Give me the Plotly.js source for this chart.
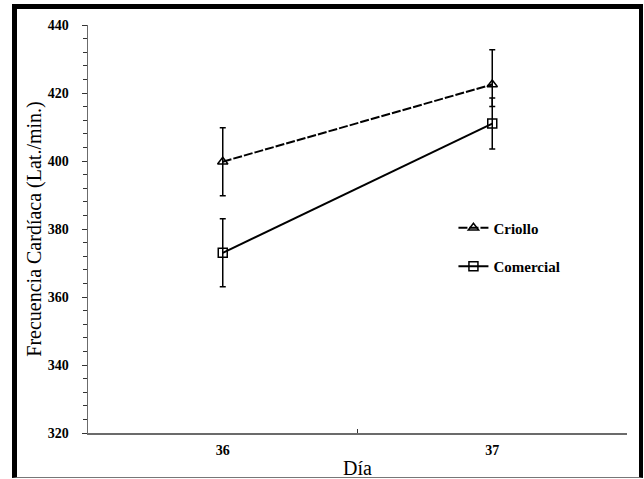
<!DOCTYPE html>
<html>
<head>
<meta charset="utf-8">
<script src="https://cdn.plot.ly/plotly-3.0.1.min.js"></script>
<style>
  html, body { margin: 0; padding: 0; background: #ffffff; }
  #wrap { position: relative; width: 644px; height: 479px; overflow: hidden; }
  #frame { position: absolute; left: 12px; top: 4px; width: 622px; height: 468px;
           border-left: 5px solid #000; border-top: 5px solid #000;
           border-right: 4px solid #000; border-bottom: 1px solid #777;
           pointer-events: none; z-index: 2; }
  #chart { position: absolute; left: 0; top: 0; width: 644px; height: 479px; z-index: 1; }
</style>
</head>
<body>
<div id="wrap">
  <div id="chart"></div>
  <div id="frame"></div>
</div>
<script>
// ---- Data ----
const days = ['36', '37'];
const criollo = [399.8, 422.5];
const criolloErrPlus = [10, 10.2];
const criolloErrMinus = [10, 6.5];
const comercial = [373, 411];
const comercialErrPlus = [10, 7.5];
const comercialErrMinus = [10, 7.5];
const yTickVals = [320, 340, 360, 380, 400, 420, 440];
const seriesNames = ['Criollo', 'Comercial'];

const serif = '"Liberation Serif", "Times New Roman", serif';

const traces = [
  {
    x: days, y: criollo, name: seriesNames[0], type: 'scatter', mode: 'lines+markers',
    legendgroup: 'a',
    line: { color: '#000', width: 2, dash: '9px,2px' },
    marker: { symbol: 'triangle-up-open', size: 9, color: '#000', line: { width: 1.5, color: '#000' } },
    error_y: { type: 'data', symmetric: false, array: criolloErrPlus, arrayminus: criolloErrMinus,
               color: '#000', thickness: 1.5, width: 3 }
  },
  {
    x: days, y: comercial, name: seriesNames[1], type: 'scatter', mode: 'lines+markers',
    legendgroup: 'b',
    line: { color: '#000', width: 2 },
    marker: { symbol: 'square-open', size: 9, color: '#000', line: { width: 1.5, color: '#000' } },
    error_y: { type: 'data', symmetric: false, array: comercialErrPlus, arrayminus: comercialErrMinus,
               color: '#000', thickness: 1.5, width: 3 }
  }
];

const layout = {
  width: 644, height: 479,
  margin: { l: 88, r: 17, t: 25, b: 46 },
  paper_bgcolor: 'rgba(0,0,0,0)', plot_bgcolor: 'rgba(0,0,0,0)',
  font: { family: serif, color: '#000' },
  showlegend: true,
  legend: {
    x: 0.678, y: 0.543, xanchor: 'left', yanchor: 'top',
    bgcolor: 'rgba(0,0,0,0)', borderwidth: 0,
    font: { family: serif, size: 15, color: '#000', weight: 'bold' },
    traceorder: 'grouped', tracegroupgap: 16, itemwidth: 30
  },
  xaxis: {
    type: 'category', range: [-0.5, 1.5],
    showline: true, linecolor: '#6b6b6b', linewidth: 2,
    ticks: 'inside', tickson: 'boundaries', ticklen: 4, tickcolor: '#333', tickwidth: 1,
    showgrid: false, zeroline: false,
    tickfont: { family: serif, size: 14, color: '#000', weight: 'bold' },
    ticklabelstandoff: 3,
    title: { text: 'Día', font: { family: serif, size: 20, color: '#000' }, standoff: 4 },
    automargin: false
  },
  yaxis: {
    range: [320, 440], tickvals: yTickVals,
    showline: true, linecolor: '#6b6b6b', linewidth: 1.5,
    ticks: 'outside', ticklen: 5, tickcolor: '#333', tickwidth: 1,
    minor: { dtick: 4, ticks: 'outside', ticklen: 4, tickcolor: '#333', tickwidth: 1, showgrid: false },
    showgrid: false, zeroline: false,
    tickfont: { family: serif, size: 14, color: '#000', weight: 'bold' },
    ticklabelstandoff: 10,
    title: { text: 'Frecuencia Cardíaca (Lat./min.)', font: { family: serif, size: 20, color: '#000' }, standoff: 0 },
    automargin: false
  }
};

Plotly.newPlot('chart', traces, layout, { staticPlot: true, displayModeBar: false });
</script>
</body>
</html>
